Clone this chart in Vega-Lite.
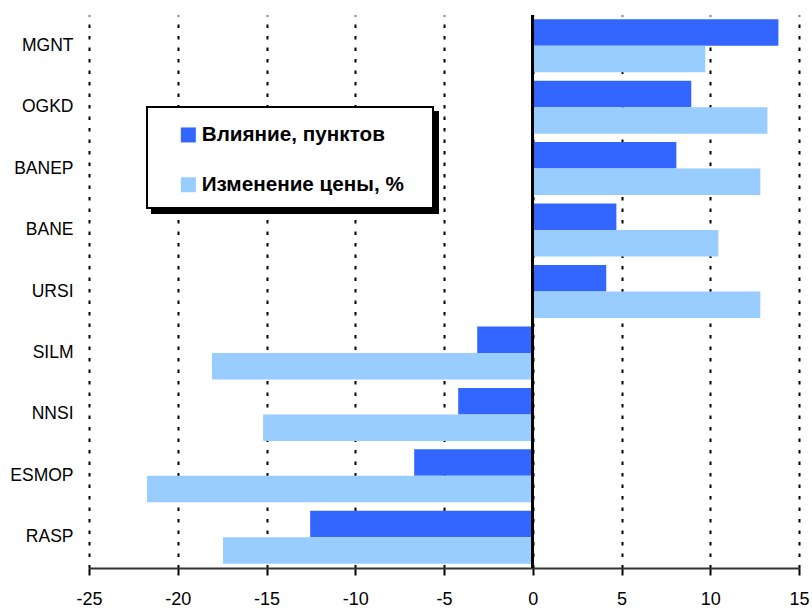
{
  "$schema": "https://vega.github.io/schema/vega-lite/v6.json",
  "autosize": {"type": "none"},
  "width": 710,
  "height": 553,
  "padding": {"left": 89, "top": 15, "right": 13, "bottom": 41},
  "background": "white",
  "config": {"view": {"stroke": null}, "font": "Liberation Sans", "legend": {"strokeWidth": 2}},
  "data": {
    "values": [
      {"ticker": "MGNT", "series": "Влияние, пунктов", "value": 13.84},
      {"ticker": "MGNT", "series": "Изменение цены, %", "value": 9.72},
      {"ticker": "OGKD", "series": "Влияние, пунктов", "value": 8.93},
      {"ticker": "OGKD", "series": "Изменение цены, %", "value": 13.22},
      {"ticker": "BANEP", "series": "Влияние, пунктов", "value": 8.09},
      {"ticker": "BANEP", "series": "Изменение цены, %", "value": 12.82},
      {"ticker": "BANE", "series": "Влияние, пунктов", "value": 4.71},
      {"ticker": "BANE", "series": "Изменение цены, %", "value": 10.46},
      {"ticker": "URSI", "series": "Влияние, пунктов", "value": 4.14},
      {"ticker": "URSI", "series": "Изменение цены, %", "value": 12.82},
      {"ticker": "SILM", "series": "Влияние, пунктов", "value": -3.13},
      {"ticker": "SILM", "series": "Изменение цены, %", "value": -18.07},
      {"ticker": "NNSI", "series": "Влияние, пунктов", "value": -4.2},
      {"ticker": "NNSI", "series": "Изменение цены, %", "value": -15.19},
      {"ticker": "ESMOP", "series": "Влияние, пунктов", "value": -6.68},
      {"ticker": "ESMOP", "series": "Изменение цены, %", "value": -21.73},
      {"ticker": "RASP", "series": "Влияние, пунктов", "value": -12.54},
      {"ticker": "RASP", "series": "Изменение цены, %", "value": -17.45}
    ]
  },
  "layer": [
    {
      "mark": {"type": "bar"},
      "encoding": {
        "y": {
          "field": "ticker", "type": "nominal", "sort": null,
          "scale": {"paddingInner": 0.137, "paddingOuter": 0.068},
          "axis": {
            "title": null, "domain": false, "ticks": false, "grid": false,
            "labelPadding": 16, "labelFontSize": 17.5, "labelFont": "Liberation Sans",
            "labelColor": "black"
          }
        },
        "yOffset": {
          "field": "series", "type": "nominal",
          "scale": {"domain": ["Влияние, пунктов", "Изменение цены, %"], "paddingInner": 0, "paddingOuter": 0}
        },
        "x": {
          "field": "value", "type": "quantitative",
          "scale": {"domain": [-25, 15], "nice": false, "zero": false},
          "axis": {
            "title": null, "values": [-25, -20, -15, -10, -5, 0, 5, 10, 15],
            "labelExpr": "'' + datum.value",
            "grid": true, "gridColor": "black", "gridDash": [3.5, 8], "gridWidth": 2, "gridOpacity": 1,
            "domainColor": "#333333", "domainWidth": 2,
            "tickColor": "black", "tickWidth": 2, "tickSize": 7,
            "labelFontSize": 18, "labelFont": "Liberation Sans", "labelColor": "black",
            "labelPadding": 15, "labelFlush": false, "labelOverlap": false
          }
        },
        "color": {
          "field": "series", "type": "nominal",
          "scale": {"domain": ["Влияние, пунктов", "Изменение цены, %"], "range": ["#3366FF", "#99CCFF"]},
          "legend": {
            "orient": "none", "legendX": 89, "legendY": 109.6, "title": null,
            "padding": 0,
            "symbolType": "square", "symbolSize": 225, "symbolStrokeWidth": 0, "symbolOffset": 0,
            "labelFont": "Liberation Sans", "labelFontSize": 20.7, "labelFontWeight": "bold",
            "labelColor": "black", "labelOffset": 3, "labelLimit": 400, "rowPadding": 27.8,
            "zindex": 2
          }
        },
        "strokeWidth": {
          "field": "ticker", "type": "nominal",
          "scale": {"range": [0, 0]},
          "legend": {
            "orient": "none", "legendX": 58, "legendY": 92, "title": null,
            "fillColor": "white", "strokeColor": "black", "padding": 0,
            "symbolType": "square", "symbolSize": 25, "symbolStrokeWidth": 0, "symbolOffset": 0,
            "symbolOpacity": 0,
            "labelFontSize": 1, "labelOffset": 281, "rowPadding": 8.625,
            "zindex": 1,
            "labelExpr": "''"
          }
        },
        "opacity": {
          "field": "series", "type": "nominal",
          "scale": {"domain": ["Изменение цены, %", "Влияние, пунктов"], "range": [1, 1]},
          "legend": {
            "orient": "none", "legendX": 63, "legendY": 97, "title": null,
            "fillColor": "black", "strokeColor": "black", "padding": 0,
            "symbolType": "square", "symbolSize": 400, "symbolStrokeWidth": 0, "symbolOffset": 0,
            "symbolOpacity": 0,
            "labelFontSize": 10, "labelOffset": 266, "rowPadding": 61,
            "zindex": 0,
            "labelExpr": "''"
          }
        }
      }
    },
    {
      "mark": {"type": "rule", "color": "black", "strokeWidth": 2},
      "encoding": {
        "x": {"datum": 0, "type": "quantitative", "title": null}
      }
    }
  ]
}
